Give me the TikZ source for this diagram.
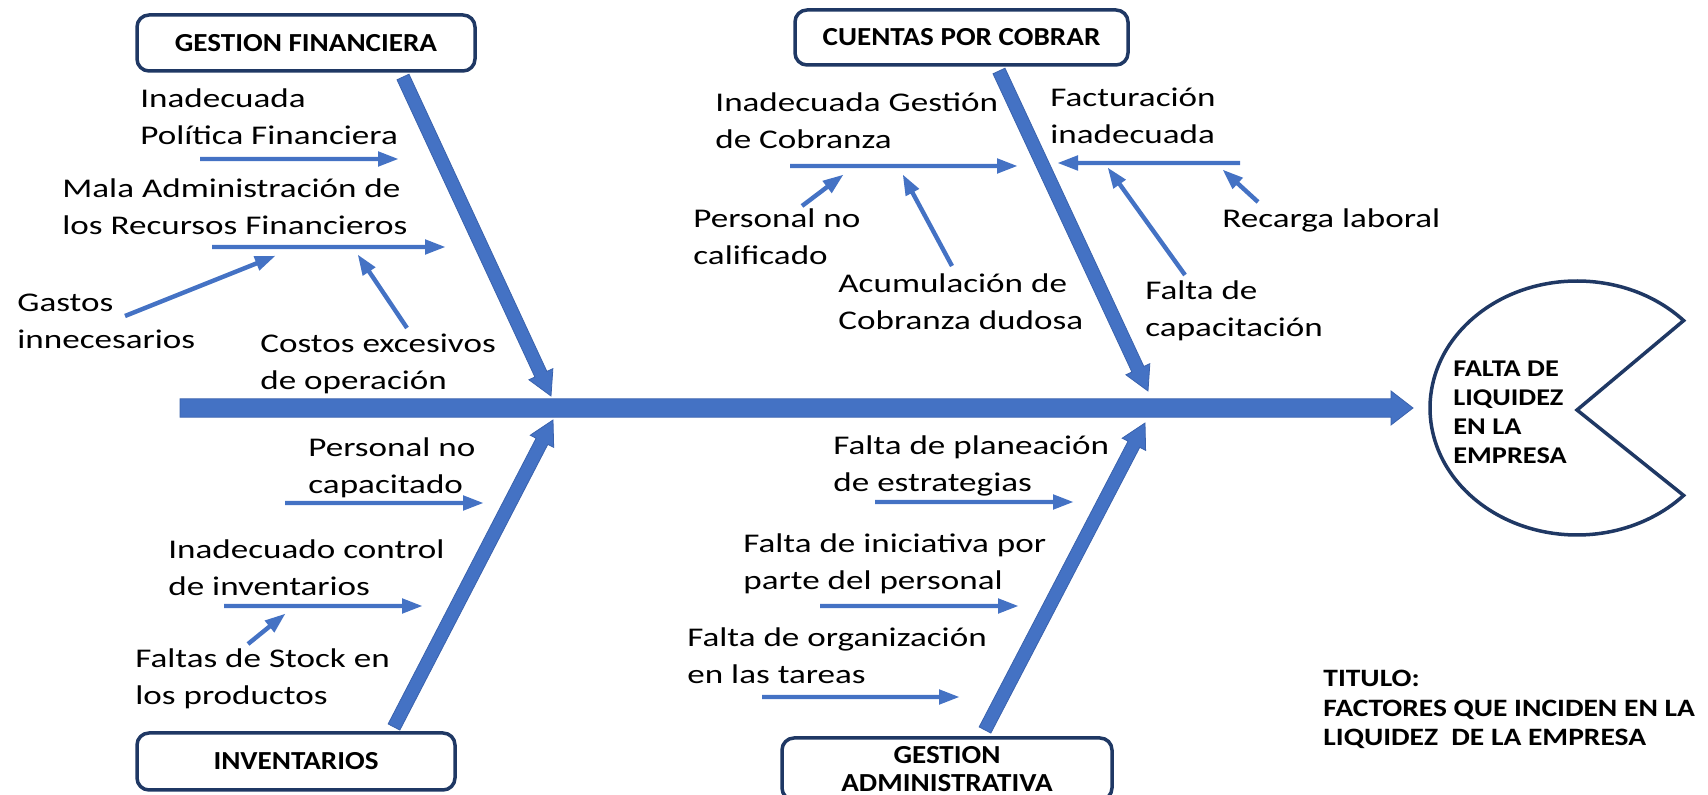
\documentclass[tikz,border=0pt]{standalone}
\usepackage{fontspec}
\usetikzlibrary{calc}
\newfontfamily\bodyfont{Carlito}[FakeStretch=1.3]
\newfontfamily\boxfont{Carlito}[FakeStretch=1.12]
\newfontfamily\pacfont{Carlito}[FakeStretch=1.18]
\definecolor{bone}{HTML}{4472C4}
\definecolor{boneedge}{HTML}{3A62AD}
\definecolor{navy}{HTML}{1F3864}
\newcommand\vlines[1]{\vtop{\halign{##\hfil\cr#1\crcr}}}
% block arrow: [style]{from}{to}{shaft half width}{head half width}{head length}
\newcommand\barrow[6][fill=bone]{%
  \path[#1] let \p1=($(#3)-(#2)$), \n1={atan2(\y1,\x1)} in
    ($(#2)+(\n1+90:#4)$)
    -- ($(#3)+(\n1+180:#6)+(\n1+90:#4)$)
    -- ($(#3)+(\n1+180:#6)+(\n1+90:#5)$)
    -- (#3)
    -- ($(#3)+(\n1+180:#6)+(\n1-90:#5)$)
    -- ($(#3)+(\n1+180:#6)+(\n1-90:#4)$)
    -- ($(#2)+(\n1-90:#4)$) -- cycle;}
\newcommand\sarrow[2]{\barrow{#1}{#2}{1.1pt}{3.9pt}{10pt}}
\newcommand\bonearrow[2]{\barrow[fill=bone,draw=boneedge,line width=0.4pt]{#1}{#2}{3.3pt}{6.6pt}{12pt}}
\begin{document}
\begin{tikzpicture}[x=0.5pt,y=-0.5pt,
  cat/.style={draw=navy, line width=1.75pt, rounded corners=6pt, fill=white, inner sep=0pt,
    font=\boxfont\bfseries\fontsize{13pt}{14.25pt}\selectfont, align=center},
  lbl/.style={anchor=base west, inner sep=0pt, font=\bodyfont\fontsize{13.5pt}{18.25pt}\selectfont},
  bold/.style={anchor=base west, inner sep=0pt, font=\pacfont\bfseries\fontsize{12pt}{14.4pt}\selectfont}]
\useasboundingbox (0,0) rectangle (1708,795);

% category boxes
\node[cat, minimum width=169pt, minimum height=28pt] (gf) at (306,43) {GESTION FINANCIERA};
\node[cat, minimum width=166.5pt, minimum height=27.5pt] (cc) at (961.5,37.5) {CUENTAS POR COBRAR};
\node[cat, minimum width=159pt, minimum height=28.5pt] (inv) at (296,761.5) {INVENTARIOS};
\node[cat, minimum width=165pt, minimum height=31pt] (ga) at (947,769) {GESTION\\ADMINISTRATIVA};

% spine and effect
\coordinate (sp-s) at (180,408);
\coordinate (sp-e) at (1413,408);
\barrow[fill=bone,draw=boneedge,line width=0.4pt]{sp-s}{sp-e}{4.6pt}{8.5pt}{11pt}
\coordinate (pac) at (1577,408);
\coordinate (mouth) at (1577,410);
\draw[navy, line width=1.75pt, fill=white] (mouth) -- ($(pac)+(43.5:73.5pt and 63.5pt)$)
  arc[start angle=43.5, end angle=316.5, x radius=73.5pt, y radius=63.5pt] -- cycle;
\node[bold] (effect) at (1453,377) {\vlines{FALTA DE\cr LIQUIDEZ\cr EN LA\cr EMPRESA}};

% main bones
\coordinate (gf-s) at (403,77);  \coordinate (gf-e) at (551,396);
\coordinate (cc-s) at (999,71);  \coordinate (cc-e) at (1148,391);
\coordinate (inv-s) at (394,727); \coordinate (inv-e) at (553,420);
\coordinate (ga-s) at (985,730);  \coordinate (ga-e) at (1145,423);
\bonearrow{gf-s}{gf-e}
\bonearrow{cc-s}{cc-e}
\bonearrow{inv-s}{inv-e}
\bonearrow{ga-s}{ga-e}

% GESTION FINANCIERA causes
\node[lbl] (t1) at (140,108) {\vlines{Inadecuada\cr Política Financiera}};
\node[lbl] (t2) at (62,198) {\vlines{Mala Administración de\cr los Recursos Financieros}};
\node[lbl] (t3) at (17,312) {\vlines{Gastos\cr innecesarios}};
\node[lbl] (t4) at (260,353) {\vlines{Costos excesivos\cr de operación}};
\coordinate (a1s) at (200,159); \coordinate (a1e) at (398,159);
\coordinate (a2s) at (212,247); \coordinate (a2e) at (445,247);
\coordinate (a3s) at (125,316); \coordinate (a3e) at (275,256);
\coordinate (a4s) at (407,328); \coordinate (a4e) at (358,255);
\sarrow{a1s}{a1e} \sarrow{a2s}{a2e} \sarrow{a3s}{a3e} \sarrow{a4s}{a4e}

% CUENTAS POR COBRAR causes
\node[lbl] (t5) at (715,112) {\vlines{Inadecuada Gestión\cr de Cobranza}};
\node[lbl] (t6) at (693,228) {\vlines{Personal no\cr calificado}};
\node[lbl] (t7) at (838,293) {\vlines{Acumulación de\cr Cobranza dudosa}};
\node[lbl] (t8) at (1050,107) {\vlines{Facturación\cr inadecuada}};
\node[lbl] (t9) at (1222,228) {Recarga laboral};
\node[lbl] (t10) at (1145,300) {\vlines{Falta de\cr capacitación}};
\coordinate (b1s) at (790,166);  \coordinate (b1e) at (1017,166);
\coordinate (b2s) at (802,206);  \coordinate (b2e) at (843,175);
\coordinate (b3s) at (952,266);  \coordinate (b3e) at (903,175);
\coordinate (b4s) at (1240,163); \coordinate (b4e) at (1058,163);
\coordinate (b5s) at (1258,202); \coordinate (b5e) at (1223,170);
\coordinate (b6s) at (1185,275); \coordinate (b6e) at (1108,168);
\sarrow{b1s}{b1e} \sarrow{b2s}{b2e} \sarrow{b3s}{b3e}
\sarrow{b4s}{b4e} \sarrow{b5s}{b5e} \sarrow{b6s}{b6e}

% INVENTARIOS causes
\node[lbl] (t11) at (308,457) {\vlines{Personal no\cr capacitado}};
\node[lbl] (t12) at (168,559) {\vlines{Inadecuado control\cr de inventarios}};
\node[lbl] (t13) at (135,668) {\vlines{Faltas de Stock en\cr los productos}};
\coordinate (c1s) at (285,503); \coordinate (c1e) at (483,503);
\coordinate (c2s) at (224,606); \coordinate (c2e) at (422,606);
\coordinate (c3s) at (248,644); \coordinate (c3e) at (285,614);
\sarrow{c1s}{c1e} \sarrow{c2s}{c2e} \sarrow{c3s}{c3e}

% GESTION ADMINISTRATIVA causes
\node[lbl] (t14) at (833,455) {\vlines{Falta de planeación\cr de estrategias}};
\node[lbl] (t15) at (743,553) {\vlines{Falta de iniciativa por\cr parte del personal}};
\node[lbl] (t16) at (687,647) {\vlines{Falta de organización\cr en las tareas}};
\coordinate (d1s) at (875,502); \coordinate (d1e) at (1073,502);
\coordinate (d2s) at (820,606); \coordinate (d2e) at (1018,606);
\coordinate (d3s) at (762,697); \coordinate (d3e) at (959,697);
\sarrow{d1s}{d1e} \sarrow{d2s}{d2e} \sarrow{d3s}{d3e}

% title
\node[bold, font=\pacfont\bfseries\fontsize{12.5pt}{14.75pt}\selectfont] (title) at (1323,687)
  {\vlines{TITULO:\cr FACTORES QUE INCIDEN EN LA\cr LIQUIDEZ\ \ DE LA EMPRESA}};
\end{tikzpicture}
\end{document}
